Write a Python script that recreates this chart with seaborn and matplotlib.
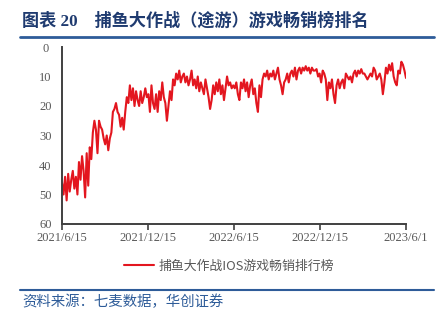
import numpy as np
import pandas as pd
import seaborn as sns
import matplotlib
matplotlib.use("Agg")
import matplotlib.pyplot as plt
from matplotlib.lines import Line2D

# ---- data (ranking) ----
q1 = [46, 50, 44, 52, 43, 49, 45, 42, 48, 44, 50, 39, 45, 37, 42, 51, 36, 47,
      34, 38, 29, 25, 28, 36, 25, 27, 28, 31, 33, 30, 35, 31, 29, 22, 21, 19,
      22, 23, 27, 24, 28, 22, 17, 19, 13, 18, 14, 20, 15, 18, 20, 15, 19, 17,
      14, 17]
q2 = [16, 22, 13, 19, 21, 16, 22, 15, 18, 12, 17, 19, 25, 20, 15, 18, 11, 13,
      9, 11, 8, 12, 10, 9, 12, 10, 13, 11, 8, 13, 11, 14, 10, 15, 12, 14, 16,
      11, 14, 17, 21, 18, 13, 16, 12, 15, 11, 16, 13, 18, 14, 10, 13, 12, 14, 13]
q3 = [14, 12, 16, 18, 12, 14, 11, 15, 12, 17, 13, 11, 16, 14, 19, 22, 13, 17,
      11, 9, 10, 8, 11, 9, 10, 8, 11, 9, 7, 11, 13, 16, 12, 11, 9, 12, 9, 8,
      10, 7, 11, 8, 7, 9, 7, 8, 6.5, 8, 7, 9, 7, 8, 8, 7.5, 10, 9]
q4 = [12, 8, 9, 11, 18, 12, 14, 11, 16, 19, 13, 11, 14, 12, 11, 14, 9, 10,
      11, 10, 12, 9, 8, 10, 8, 9, 7.5, 9, 9, 10, 11, 10, 9, 10, 7, 8, 11, 10,
      9, 11, 16, 12, 7, 9, 6, 8, 5.5, 10, 12, 13, 8, 9, 5, 6, 8, 10.5]
rank = q1 + q2 + q3 + q4
x_labels = ["2021/6/15", "2021/12/15", "2022/6/15", "2022/12/15", "2023/6/1"]
y_ticks = [0, 10, 20, 30, 40, 50, 60]
series_name = "捕鱼大作战IOS游戏畅销排行榜"
title = "图表 20    捕鱼大作战（途游）游戏畅销榜排名"
source = "资料来源：七麦数据，华创证券"

df = pd.DataFrame({"idx": np.arange(len(rank)), "rank": rank})

sns.set_theme(style="white")
plt.rcParams["font.family"] = ["Liberation Serif", "Noto Sans CJK SC", "DejaVu Sans"]

fig = plt.figure(figsize=(4.45, 3.18), dpi=100)
ax = fig.add_axes([62 / 445, 1 - 224 / 318, 344 / 445, 177 / 318])

red = "#E3161F"
sns.lineplot(data=df, x="idx", y="rank", ax=ax, color=red, linewidth=1.5, legend=False)

n = len(rank)
ax.set_xlim(0, n - 1)
ax.set_ylim(60, 0)
ax.set_yticks(y_ticks)
ax.set_xticks(np.linspace(0, n - 1, len(x_labels)))
ax.set_xticklabels(x_labels)
ax.set_xlabel("")
ax.set_ylabel("")

gray = "#595959"
for s in ["top", "right"]:
    ax.spines[s].set_visible(False)
for s in ["left", "bottom"]:
    ax.spines[s].set_color("#404040")
    ax.spines[s].set_linewidth(1.4)
ax.tick_params(axis="x", which="major", direction="out", length=4, width=1.2,
               color="#404040", labelcolor=gray, labelsize=9, pad=2, bottom=True)
ax.tick_params(axis="y", which="major", length=0, labelcolor=gray, labelsize=9, pad=12)
for lab in ax.get_yticklabels():
    lab.set_horizontalalignment("center")
ax.grid(False)

# title
navy = "#1F3B70"
fig.text(22 / 445, 1 - 21 / 318, title, fontsize=12.3, fontweight="bold", color=navy,
         va="center", ha="left", family=["Liberation Serif", "Noto Sans CJK SC"])
line_blue = "#2E5C99"
fig.add_artist(Line2D([20 / 445, 434 / 445], [1 - 37 / 318, 1 - 37 / 318],
                      color=line_blue, linewidth=2.0, transform=fig.transFigure))

# legend
leg = ax.legend(handles=[Line2D([0], [0], color=red, linewidth=1.5)], labels=[series_name],
                loc="center", bbox_to_anchor=(229 / 445, 1 - 266 / 318),
                bbox_transform=fig.transFigure, frameon=False,
                handlelength=2.3, handletextpad=0.4,
                prop={"family": ["Noto Sans CJK SC", "Liberation Serif"], "size": 9.3})
for t in leg.get_texts():
    t.set_color(gray)

# source
fig.add_artist(Line2D([20 / 445, 434 / 445], [1 - 290 / 318, 1 - 290 / 318],
                      color=line_blue, linewidth=1.5, transform=fig.transFigure))
fig.text(22 / 445, 1 - 302 / 318, source, fontsize=10.4, color=line_blue, style="italic",
         va="center", ha="left", family=["Noto Sans CJK SC"])

fig.savefig("out.png", dpi=100)
